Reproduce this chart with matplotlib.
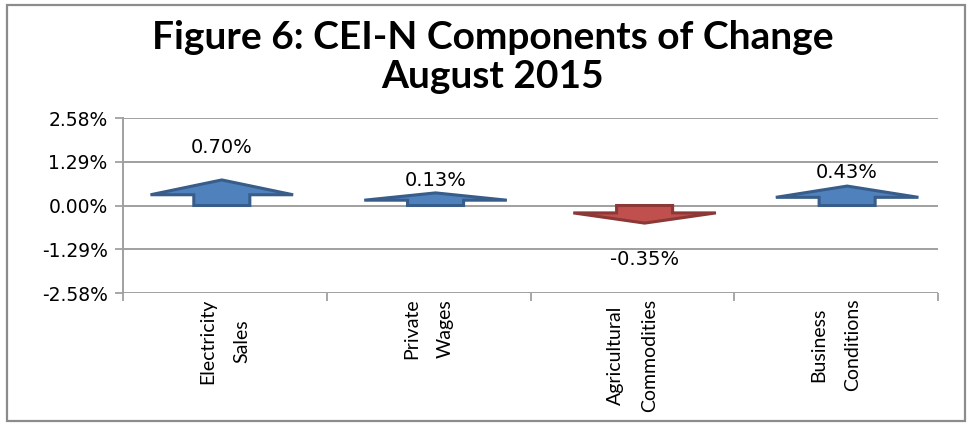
import matplotlib
matplotlib.use("Agg")
import matplotlib.pyplot as plt
from matplotlib.patches import Polygon, Rectangle

# data
categories = ["Electricity\nSales", "Private\nWages",
              "Agricultural\nCommodities", "Business\nConditions"]
changes = [0.70, 0.13, -0.35, 0.43]          # percent
y_ticks = [-2.58, -1.29, 0.00, 1.29, 2.58]

# layout tweaks (the arrows were hand placed in the original)
x_nudge = [-0.015, 0.034, 0.06, 0.054]
label_y = [1.70, 0.73, -1.58, 0.97]

TITLE = "Figure 6: CEI-N Components of Change\nAugust 2015"


def arrow_points(xc, v):
    """ Block arrow from zero towards the sign of v """
    sign = 1 if v >= 0 else -1
    length = 0.285 + 0.67 * abs(v)
    head = 0.58 * length
    shaft_w, head_w = 0.275, 0.70
    base = sign * (length - head)
    tip = sign * length
    return [(xc - shaft_w / 2, 0), (xc - shaft_w / 2, base),
            (xc - head_w / 2, base), (xc, tip),
            (xc + head_w / 2, base), (xc + shaft_w / 2, base),
            (xc + shaft_w / 2, 0)]


def plot_chart():
    """ Plotting the chart """
    fig = plt.figure(figsize=(9.69, 4.25), dpi=100)
    ax = fig.add_axes([123 / 969, 1 - 293 / 425, 815 / 969, 175 / 425])

    grid_c = "#a0a0a0"
    ax.set_xlim(0, len(categories))
    ax.set_ylim(y_ticks[0], y_ticks[-1])
    ax.set_yticks(y_ticks)
    ax.set_yticklabels(["{:.2f}%".format(t) for t in y_ticks],
                       fontsize=13.5, family="DejaVu Sans")
    ax.tick_params(axis="y", length=6, width=1.3, color=grid_c, pad=5)
    for t in y_ticks:
        ax.axhline(t, color=grid_c, lw=1.4, zorder=1)
    for s in ["top", "right", "bottom"]:
        ax.spines[s].set_visible(False)
    ax.spines["left"].set_color(grid_c)
    ax.spines["left"].set_linewidth(1.4)

    # category labels at the bottom, tick marks on the zero line
    centers = [i + 0.5 for i in range(len(categories))]
    ax.set_xticks(centers)
    ax.set_xticklabels(categories, rotation=90, fontsize=14, family="Lato",
                       linespacing=2.2, multialignment="center")
    ax.tick_params(axis="x", length=0, pad=4)
    zero_ax = ax.secondary_xaxis(0)
    zero_ax.set_xticks(range(len(categories) + 1))
    zero_ax.set_xticklabels([])
    zero_ax.tick_params(length=6, width=1.3, color=grid_c)
    zero_ax.spines["bottom"].set_visible(False)

    for xc, v, dx, ly in zip(centers, changes, x_nudge, label_y):
        if v >= 0:
            face, edge = "#4F81BD", "#385D8A"
        else:
            face, edge = "#C0504D", "#8C3836"
        ax.add_patch(Polygon(arrow_points(xc + dx, v), closed=True,
                             facecolor=face, edgecolor=edge, lw=2.2, zorder=3))
        ax.text(xc + dx, ly, "{:.2f}%".format(v), ha="center", va="center",
                fontsize=14, family="DejaVu Sans", zorder=4)

    fig.text(493 / 969, 1 - 57 / 425, TITLE, ha="center", va="center",
             fontsize=28, fontweight="bold", family="Lato", linespacing=1.16)

    fig.patches.append(Rectangle((7 / 969, 1 - 421 / 425), 958 / 969, 416 / 425,
                                 transform=fig.transFigure, fill=False,
                                 edgecolor="#8c8c8c", lw=1.6))

    fig.savefig("out.png", dpi=100)


plot_chart()
